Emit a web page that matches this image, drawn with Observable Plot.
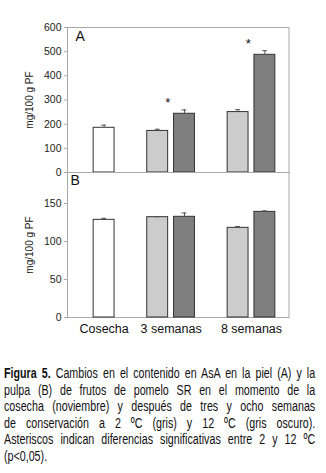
<!DOCTYPE html>
<html>
<head>
<meta charset="utf-8">
<script src="https://cdn.jsdelivr.net/npm/d3@7"></script>
<script src="https://cdn.jsdelivr.net/npm/@observablehq/plot@0.6"></script>
<style>
  html, body { margin: 0; padding: 0; background: white; }
  #chart { position: relative; width: 326px; height: 345px; }
  #chart svg { position: absolute; left: 0; top: 0; background: transparent; overflow: visible; }
  #caption {
    position: absolute; left: 4px; top: 365px; width: 451px;
    transform: scaleX(0.69); transform-origin: 0 0;
    font-family: "Liberation Sans", Arial, sans-serif;
    font-size: 15.5px; line-height: 16.6px; color: #111;
  }
  #caption .j { text-align: justify; text-align-last: justify; white-space: nowrap; }
  #caption b { font-weight: bold; }
</style>
</head>
<body>
<div id="chart"></div>
<div id="caption">
  <div class="j"><b>Figura 5.</b> Cambios en el contenido en AsA en la piel (A) y la</div>
  <div class="j">pulpa (B) de frutos de pomelo SR en el momento de la</div>
  <div class="j">cosecha (noviembre) y después de tres y ocho semanas</div>
  <div class="j">de conservación a 2 ºC (gris) y 12 ºC (gris oscuro).</div>
  <div class="j">Asteriscos indican diferencias significativas entre 2 y 12 ºC</div>
  <div>(p&lt;0,05).</div>
</div>
<script>
// ---- data ----
const categories = ["Cosecha", "3 semanas", "8 semanas"];
const barGroup = ["Cosecha", "3 semanas", "3 semanas", "8 semanas", "8 semanas"];
const barTemp = ["Cosecha", "2 ºC", "12 ºC", "2 ºC", "12 ºC"];
const pielValues = [185, 172, 243, 250, 487];
const pielErrors = [11, 7, 16, 10, 17];
const pielSig = [false, false, true, false, true];
const pulpaValues = [128.5, 132, 132.5, 118, 139];
const pulpaErrors = [2, 0.6, 5, 1.7, 1.3];
const ticksA = [0, 100, 200, 300, 400, 500, 600];
const ticksB = [0, 50, 100, 150];
const yLabel = "mg/100 g PF";

// ---- layout helpers ----
const tempOrder = ["Cosecha", "2 ºC", "12 ºC"];
function slot(g, t) {
  const gi = categories.indexOf(g);
  if (gi === 0) return 1;
  return 3 * gi + (t === "12 ºC" ? 1 : 0);
}
const groupPos = categories.map((c, i) => i === 0 ? 1 : 3 * i + 0.5);
const half = 0.39, cap = 0.09;

function rows(values, errors, sig) {
  return values.map((v, i) => ({
    group: barGroup[i], temp: barTemp[i], value: v, err: errors[i],
    sig: sig ? sig[i] : false, s: slot(barGroup[i], barTemp[i])
  }));
}
const dataA = rows(pielValues, pielErrors, pielSig);
const dataB = rows(pulpaValues, pulpaErrors, null);

const W = 326, H = 345;
const xScale = {type: "linear", domain: [-0.366, 7.9], axis: null, label: null};
const color = {domain: tempOrder, range: ["#ffffff", "#cccccc", "#7f7f7f"]};
const font = {fontFamily: "'Liberation Sans', Arial, sans-serif", fontSize: "10px", background: "transparent", overflow: "visible", color: "#222"};

function panelMarks(data, ticks, label, labelDx, labelDy, labelSize) {
  return [
    Plot.frame({stroke: "#a8a8a8"}),
    Plot.axisY({ticks, tickSize: 3, tickPadding: 3, stroke: "#a8a8a8", label: null, fill: "#222", fontSize: 10.5}),
    Plot.rectY(data, {x1: d => d.s - half, x2: d => d.s + half, y1: 0, y2: "value", fill: "temp", stroke: "#333", strokeWidth: 1}),
    Plot.ruleX(data, {x: "s", y1: "value", y2: d => d.value + d.err, stroke: "#555"}),
    Plot.ruleY(data, {x1: d => d.s - cap, x2: d => d.s + cap, y: d => d.value + d.err, stroke: "#555"}),
    Plot.text([label], {frameAnchor: "top-left", dx: labelDx, dy: labelDy, lineAnchor: "top", textAnchor: "start", fontSize: labelSize, fill: "#111"}),
    Plot.text([yLabel], {frameAnchor: "left", dx: -38, rotate: -90, textAnchor: "middle", fontSize: 10, fill: "#222"})
  ];
}

const plotA = Plot.plot({
  width: W, height: H,
  marginTop: 27, marginBottom: H - 172, marginLeft: 67, marginRight: 37.5,
  style: font,
  x: xScale,
  y: {domain: [0, 600]},
  color,
  marks: [
    ...panelMarks(dataA, ticksA, "A", 8, 4, 14),
    Plot.ruleY([0], {stroke: "#333"}),
    Plot.text(dataA.filter(d => d.sig), {x: d => groupPos[categories.indexOf(d.group)] - 0.12, y: d => d.value + d.err, text: () => "*", dy: -7, fontSize: 13, fill: "#111"})
  ]
});

const plotB = Plot.plot({
  width: W, height: H,
  marginTop: 172, marginBottom: H - 317, marginLeft: 67, marginRight: 37.5,
  style: font,
  x: xScale,
  y: {domain: [0, 190.8]},
  color,
  marks: [
    ...panelMarks(dataB, ticksB, "B", 3, 3, 14),
    Plot.axisX({ticks: groupPos, tickFormat: (d, i) => categories[i], tickSize: 0, tickPadding: 7, fontSize: 12.5, fill: "#111", anchor: "bottom", label: null})
  ]
});

const chart = document.getElementById("chart");
chart.appendChild(plotA);
chart.appendChild(plotB);
</script>
</body>
</html>
